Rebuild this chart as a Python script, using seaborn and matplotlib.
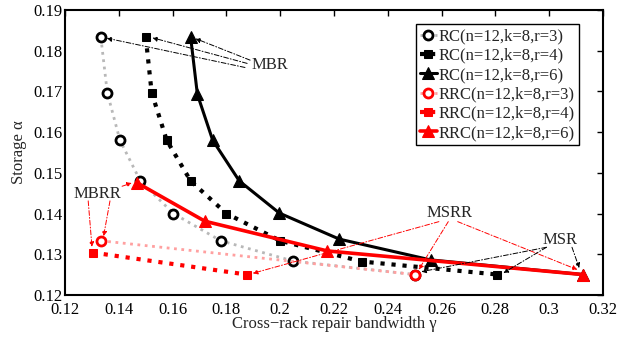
import matplotlib
matplotlib.use("Agg")
import matplotlib.pyplot as plt
import seaborn as sns
import pandas as pd

# ---- data ----
rc3_x = [0.1333, 0.1357, 0.1404, 0.1480, 0.1603, 0.1779, 0.2049, 0.2500]
rc3_y = [0.1833, 0.1697, 0.1580, 0.1480, 0.1400, 0.1333, 0.1283, 0.1250]
rc4_x = [0.1500, 0.1522, 0.1578, 0.1667, 0.1800, 0.2000, 0.2303, 0.2808]
rc4_y = [0.1833, 0.1697, 0.1580, 0.1480, 0.1400, 0.1333, 0.1282, 0.1250]
rc6_x = [0.1667, 0.1692, 0.1749, 0.1848, 0.1997, 0.2220, 0.2559, 0.3125]
rc6_y = [0.1833, 0.1693, 0.1580, 0.1480, 0.1401, 0.1337, 0.1286, 0.1250]
rrc3_x = [0.1333, 0.2500]
rrc3_y = [0.1333, 0.1250]
rrc4_x = [0.1303, 0.1875]
rrc4_y = [0.1304, 0.1250]
rrc6_x = [0.1469, 0.1720, 0.2175, 0.3125]
rrc6_y = [0.1475, 0.1381, 0.1308, 0.1250]

labels = ["RC(n=12,k=8,r=3)", "RC(n=12,k=8,r=4)", "RC(n=12,k=8,r=6)",
          "RRC(n=12,k=8,r=3)", "RRC(n=12,k=8,r=4)", "RRC(n=12,k=8,r=6)"]
x_ticks = [0.12, 0.14, 0.16, 0.18, 0.2, 0.22, 0.24, 0.26, 0.28, 0.3, 0.32]
x_tick_labels = ["0.12", "0.14", "0.16", "0.18", "0.2", "0.22", "0.24", "0.26", "0.28", "0.3", "0.32"]
y_ticks = [0.12, 0.13, 0.14, 0.15, 0.16, 0.17, 0.18, 0.19]
y_tick_labels = ["0.12", "0.13", "0.14", "0.15", "0.16", "0.17", "0.18", "0.19"]

sns.set_style("white")
plt.rcParams['font.family'] = ['Liberation Serif', 'DejaVu Serif']

fig = plt.figure(figsize=(6.38, 3.37), dpi=100)
ax = fig.add_axes([0.102, 0.125, 0.843, 0.845])

RED = '#ff0000'
series = [
    (rc3_x, rc3_y, dict(color='#b8b8b8', linestyle=':', linewidth=2.0, marker='o',
                        markersize=6.5, markerfacecolor='white', markeredgecolor='black',
                        markeredgewidth=2.0)),
    (rc4_x, rc4_y, dict(color='black', linestyle=':', linewidth=3.0, marker='s',
                        markersize=6, markerfacecolor='black', markeredgecolor='black')),
    (rc6_x, rc6_y, dict(color='black', linestyle='-', linewidth=2.2, marker='^',
                        markersize=8.5, markerfacecolor='black', markeredgecolor='black')),
    (rrc3_x, rrc3_y, dict(color='#ffa0a0', linestyle=':', linewidth=2.0, marker='o',
                          markersize=6.5, markerfacecolor='white', markeredgecolor=RED,
                          markeredgewidth=2.0)),
    (rrc4_x, rrc4_y, dict(color=RED, linestyle=':', linewidth=3.0, marker='s',
                          markersize=6, markerfacecolor=RED, markeredgecolor=RED)),
    (rrc6_x, rrc6_y, dict(color=RED, linestyle='-', linewidth=2.6, marker='^',
                          markersize=8.5, markerfacecolor=RED, markeredgecolor=RED)),
]
for (xs, ys, st), lab in zip(series, labels):
    df = pd.DataFrame({"x": xs, "y": ys})
    sns.lineplot(data=df, x="x", y="y", ax=ax, sort=False, estimator=None,
                 label=lab, **st)

# annotations
def arrow(start, end, color):
    ax.annotate('', xy=end, xytext=start,
                arrowprops=dict(arrowstyle='-|>', linestyle=(0, (5, 2, 1, 2)),
                                lw=0.7, color=color, mutation_scale=7,
                                shrinkA=0, shrinkB=0))

fs = 12
ax.text(0.1962, 0.1764, "MBR", fontsize=fs, ha='center', va='center')
arrow((0.1869, 0.1759), (0.1355, 0.1831), 'black')
arrow((0.1877, 0.1769), (0.1525, 0.1832), 'black')
arrow((0.1888, 0.1777), (0.1685, 0.1830), 'black')

ax.text(0.1319, 0.1447, "MBRR", fontsize=fs, ha='center', va='center')
arrow((0.1286, 0.1431), (0.1300, 0.1318), RED)
arrow((0.1367, 0.1431), (0.1343, 0.1344), RED)
arrow((0.1412, 0.1467), (0.1448, 0.1475), RED)

ax.text(0.2628, 0.1401, "MSRR", fontsize=fs, ha='center', va='center')
arrow((0.2590, 0.1380), (0.1898, 0.1253), RED)
arrow((0.2625, 0.1380), (0.2515, 0.1262), RED)
arrow((0.2660, 0.1380), (0.3105, 0.1262), RED)

ax.text(0.3040, 0.1334, "MSR", fontsize=fs, ha='center', va='center')
arrow((0.2990, 0.1317), (0.2830, 0.1254), 'black')
arrow((0.2990, 0.1317), (0.2525, 0.1257), 'black')
arrow((0.3085, 0.1317), (0.3112, 0.1266), 'black')

ax.set_xlim(0.12, 0.32)
ax.set_ylim(0.12, 0.19)
ax.set_xticks(x_ticks)
ax.set_xticklabels(x_tick_labels)
ax.set_yticks(y_ticks)
ax.set_yticklabels(y_tick_labels)
ax.tick_params(direction='in', length=4, width=1, top=True, right=True,
               labelsize=12, colors='black', pad=2)
ax.tick_params(axis='x', pad=5)
ax.set_xlabel("Cross\u2212rack repair bandwidth \u03b3", fontsize=12, labelpad=-1)
ax.set_ylabel("Storage \u03b1", fontsize=12, labelpad=4)
for sp in ax.spines.values():
    sp.set_visible(True)
    sp.set_color('black')
    sp.set_linewidth(1.5)

leg = ax.legend(loc='upper right', bbox_to_anchor=(0.955, 0.95), fontsize=12,
                handlelength=1.0, handletextpad=0.1, labelspacing=0.2,
                borderpad=0.25, borderaxespad=0.0, fancybox=False, framealpha=1)
leg.get_frame().set_edgecolor('black')
leg.get_frame().set_linewidth(1.0)

fig.savefig("out.png", dpi=100)
